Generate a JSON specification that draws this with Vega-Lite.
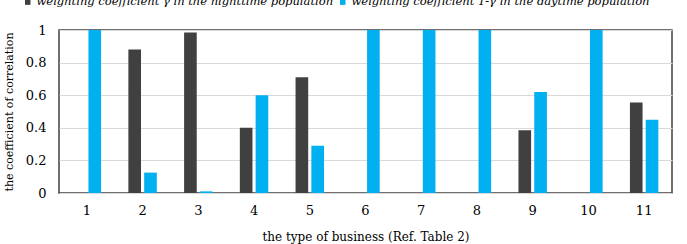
{
  "$schema": "https://vega.github.io/schema/vega-lite/v6.json",
  "width": 613,
  "height": 163,
  "autosize": {"type": "none"},
  "padding": {"left": 59, "top": 30, "right": 15, "bottom": 51},
  "background": "white",
  "config": {
    "view": {"stroke": "#404040", "strokeWidth": 1.5},
    "font": "DejaVu Serif"
  },
  "data": {
    "values": [
      {"type": "1", "series": "weighting coefficient γ in the nighttime population", "value": 0},
      {"type": "1", "series": "weighting coefficient 1-γ in the daytime population", "value": 1},
      {"type": "2", "series": "weighting coefficient γ in the nighttime population", "value": 0.88},
      {"type": "2", "series": "weighting coefficient 1-γ in the daytime population", "value": 0.125},
      {"type": "3", "series": "weighting coefficient γ in the nighttime population", "value": 0.985},
      {"type": "3", "series": "weighting coefficient 1-γ in the daytime population", "value": 0.01},
      {"type": "4", "series": "weighting coefficient γ in the nighttime population", "value": 0.4},
      {"type": "4", "series": "weighting coefficient 1-γ in the daytime population", "value": 0.6},
      {"type": "5", "series": "weighting coefficient γ in the nighttime population", "value": 0.71},
      {"type": "5", "series": "weighting coefficient 1-γ in the daytime population", "value": 0.29},
      {"type": "6", "series": "weighting coefficient γ in the nighttime population", "value": 0},
      {"type": "6", "series": "weighting coefficient 1-γ in the daytime population", "value": 1},
      {"type": "7", "series": "weighting coefficient γ in the nighttime population", "value": 0},
      {"type": "7", "series": "weighting coefficient 1-γ in the daytime population", "value": 1},
      {"type": "8", "series": "weighting coefficient γ in the nighttime population", "value": 0},
      {"type": "8", "series": "weighting coefficient 1-γ in the daytime population", "value": 1},
      {"type": "9", "series": "weighting coefficient γ in the nighttime population", "value": 0.385},
      {"type": "9", "series": "weighting coefficient 1-γ in the daytime population", "value": 0.62},
      {"type": "10", "series": "weighting coefficient γ in the nighttime population", "value": 0},
      {"type": "10", "series": "weighting coefficient 1-γ in the daytime population", "value": 1},
      {"type": "11", "series": "weighting coefficient γ in the nighttime population", "value": 0.555},
      {"type": "11", "series": "weighting coefficient 1-γ in the daytime population", "value": 0.45}
    ]
  },
  "mark": {"type": "bar"},
  "encoding": {
    "x": {
      "field": "type", "type": "nominal", "sort": null,
      "scale": {"paddingInner": 0.49, "paddingOuter": 0.245},
      "axis": {
        "title": "the type of business (Ref. Table 2)",
        "titleFont": "DejaVu Serif", "titleFontSize": 12, "titleFontWeight": "normal", "titleColor": "#000",
        "titlePadding": 14,
        "labelFont": "DejaVu Serif", "labelFontSize": 13, "labelColor": "#000", "labelAngle": 0, "labelPadding": 11,
        "ticks": false, "domain": false, "grid": false
      }
    },
    "xOffset": {
      "field": "series", "type": "nominal", "sort": null,
      "scale": {"paddingInner": 0.2}
    },
    "y": {
      "field": "value", "type": "quantitative",
      "scale": {"domain": [0, 1]},
      "axis": {
        "title": "the coefficient of correlation",
        "titleFont": "DejaVu Serif", "titleFontSize": 11, "titleFontWeight": "normal", "titleColor": "#000",
        "titlePadding": 11,
        "labelFont": "DejaVu Serif", "labelFontSize": 13, "labelColor": "#000", "labelPadding": 13,
        "format": "~g",
        "values": [0, 0.2, 0.4, 0.6, 0.8, 1],
        "ticks": false, "domain": false,
        "gridColor": "#d9d9d9", "gridWidth": 1
      }
    },
    "color": {
      "field": "series", "type": "nominal", "sort": null,
      "scale": {
        "domain": ["weighting coefficient γ in the nighttime population", "weighting coefficient 1-γ in the daytime population"],
        "range": ["#404040", "#00b0f0"]
      },
      "legend": {
        "title": null,
        "orient": "none",
        "direction": "horizontal",
        "legendX": -37,
        "legendY": -34,
        "symbolType": "square",
        "symbolSize": 30,
        "symbolStrokeWidth": 0,
        "labelFont": "DejaVu Serif",
        "labelFontSize": 11.5,
        "labelFontStyle": "italic",
        "labelColor": "#000",
        "labelOffset": 3,
        "columnPadding": 3,
        "labelLimit": 400
      }
    }
  }
}
